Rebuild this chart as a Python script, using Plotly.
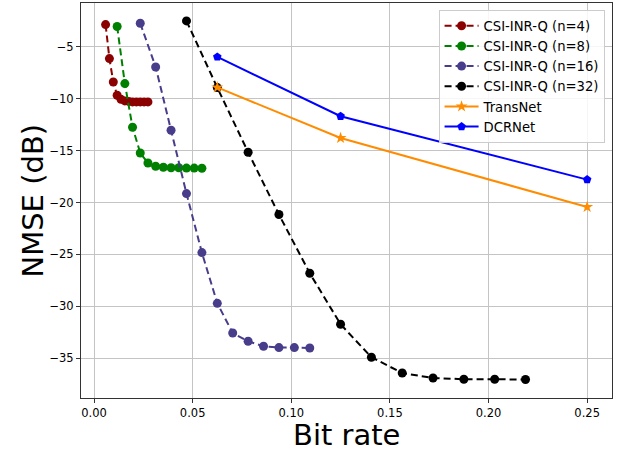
import plotly.graph_objects as go

# x values (bit rate) per series
x_n4 = [0.00586, 0.00781, 0.00977, 0.01172, 0.01367, 0.01563, 0.01758, 0.01953, 0.02148, 0.02344, 0.02539, 0.02734]
y_n4 = [-2.84, -6.12, -8.38, -9.66, -10.05, -10.2, -10.25, -10.3, -10.3, -10.3, -10.3, -10.3]

x_n8 = [0.01172, 0.01563, 0.01953, 0.02344, 0.02734, 0.03125, 0.03516, 0.03906, 0.04297, 0.04688, 0.05078, 0.05469]
y_n8 = [-3.03, -8.53, -12.74, -15.22, -16.19, -16.5, -16.6, -16.65, -16.65, -16.68, -16.68, -16.7]

x_n16 = [0.02344, 0.03125, 0.03906, 0.04688, 0.05469, 0.0625, 0.07031, 0.07813, 0.08594, 0.09375, 0.10156, 0.10938]
y_n16 = [-2.71, -6.93, -13.03, -19.14, -24.83, -29.72, -32.58, -33.38, -33.86, -33.99, -33.99, -34.03]

x_n32 = [0.04688, 0.0625, 0.07813, 0.09375, 0.10938, 0.125, 0.14063, 0.15625, 0.17188, 0.1875, 0.20313, 0.21875]
y_n32 = [-2.49, -8.92, -15.15, -21.16, -26.82, -31.74, -34.92, -36.44, -36.92, -37.04, -37.04, -37.07]

x_trans = [0.0625, 0.125, 0.25]
y_trans = [-8.9, -13.78, -20.43]

x_dcr = [0.0625, 0.125, 0.25]
y_dcr = [-5.96, -11.68, -17.79]

x_ticks = [0.0, 0.05, 0.10, 0.15, 0.20, 0.25]
y_ticks = [-5, -10, -15, -20, -25, -30, -35]

x_title = "Bit rate"
y_title = "NMSE (dB)"

FONT = "DejaVu Sans"
DASH = "7px,4px"

fig = go.Figure()

def add_inr(x, y, name, color):
    fig.add_trace(go.Scatter(
        x=x, y=y, name=name, mode="lines+markers",
        line=dict(color=color, width=2, dash=DASH),
        marker=dict(symbol="circle", size=9, color=color),
    ))

add_inr(x_n4, y_n4, "CSI-INR-Q (n=4)", "#8b0000")
add_inr(x_n8, y_n8, "CSI-INR-Q (n=8)", "#008000")
add_inr(x_n16, y_n16, "CSI-INR-Q (n=16)", "#483d8b")
add_inr(x_n32, y_n32, "CSI-INR-Q (n=32)", "#000000")

fig.add_trace(go.Scatter(
    x=x_trans, y=y_trans, name="TransNet", mode="lines+markers",
    line=dict(color="#ff8c00", width=2),
    marker=dict(symbol="star", size=9, color="#ff8c00"),
))
fig.add_trace(go.Scatter(
    x=x_dcr, y=y_dcr, name="DCRNet", mode="lines+markers",
    line=dict(color="#0000ff", width=2),
    marker=dict(symbol="pentagon", size=9, color="#0000ff"),
))

axis_common = dict(
    showgrid=True, gridcolor="#c4c4c4", gridwidth=1,
    showline=True, linecolor="#333333", linewidth=1, mirror=True,
    ticks="outside", ticklen=4, tickcolor="#333333", tickwidth=1,
    zeroline=False, automargin=False,
    tickfont=dict(family=FONT, size=11.5, color="#000000"),
)

fig.update_xaxes(range=[-0.0066, 0.2626], tickvals=x_ticks, tickformat=".2f", **axis_common)
fig.update_yaxes(range=[-38.85, -0.76], tickvals=y_ticks, **axis_common)

fig.add_annotation(
    text=x_title, xref="paper", yref="paper", x=0.5, y=0,
    xanchor="center", yanchor="top", yshift=-18, showarrow=False,
    font=dict(family=FONT, size=29, color="#000000"),
)
fig.add_annotation(
    text=y_title, xref="paper", yref="paper", x=0, y=0.5,
    xanchor="center", yanchor="middle", xshift=-49, textangle=-90, showarrow=False,
    font=dict(family=FONT, size=29, color="#000000"),
)

fig.update_layout(
    width=626, height=449,
    margin=dict(l=81, r=14, t=3, b=51),
    paper_bgcolor="white", plot_bgcolor="white",
    font=dict(family=FONT, color="#000000"),
    showlegend=True,
    legend=dict(
        x=0.986, y=0.9830, xanchor="right", yanchor="top",
        bgcolor="rgba(255,255,255,0.85)", bordercolor="#cccccc", borderwidth=1,
        font=dict(family=FONT, size=13.2, color="#000000"),
        itemwidth=34, tracegroupgap=0,
    ),
)

fig.write_html(
    "out.html",
    config={"displayModeBar": False},
    post_script="document.body.style.margin='0';document.body.style.overflow='hidden';",
)
